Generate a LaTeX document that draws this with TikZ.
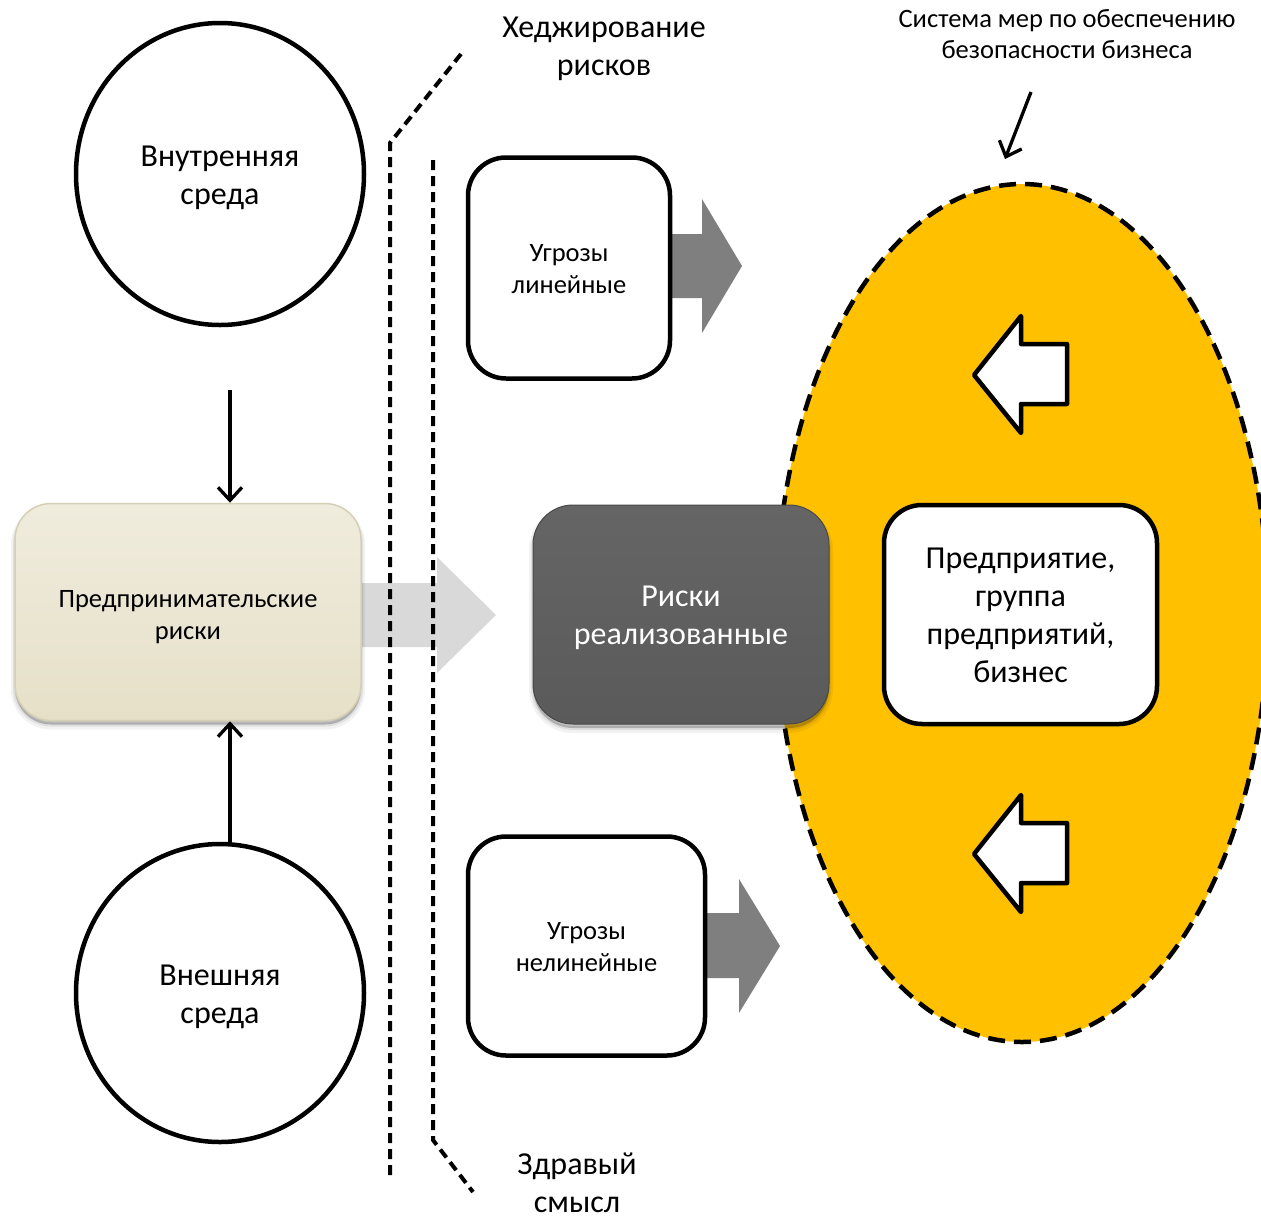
\documentclass[tikz,border=0pt]{standalone}
\usepackage{fontspec}
\setmainfont{Carlito}
\usetikzlibrary{arrows.meta,shapes.geometric}
\definecolor{ellfill}{HTML}{FFC000}
\definecolor{beigeT}{HTML}{F0ECDD}
\definecolor{beigeB}{HTML}{E6E0C8}
\definecolor{beigeD}{HTML}{D5CFB6}
\definecolor{darkT}{HTML}{656565}
\definecolor{darkB}{HTML}{5A5A5A}
\definecolor{arrLight}{HTML}{D9D9D9}
\definecolor{arrGray}{HTML}{7F7F7F}
\tikzset{
  bigfont/.style={font=\fontsize{32}{38}\selectfont},
  smallfont/.style={font=\fontsize{26.5}{32}\selectfont},
  circ/.style={draw, ellipse, line width=4.5pt, fill=white, inner sep=0pt},
  whitebox/.style={draw, line width=4.5pt, fill=white, rounded corners=38pt, inner sep=0pt},
  softshadow/.style={
    preaction={draw=black, draw opacity=0.05, line width=8pt, transform canvas={yshift=-5pt}},
    preaction={draw=black, draw opacity=0.08, line width=4pt, transform canvas={yshift=-4pt}},
    preaction={fill=black, fill opacity=0.22, transform canvas={yshift=-4pt}}},
  connarrow/.style={line width=3.3pt, -{Straight Barb[length=13pt,width=24pt,line width=3.3pt]}},
  sepline/.style={line width=4pt, dash pattern=on 10pt off 6pt},
  btext/.style={bigfont, align=center},
  stext/.style={smallfont, align=center},
}
\begin{document}
\begin{tikzpicture}[x=1pt,y=-1pt]
\useasboundingbox (0,0) rectangle (1261,1216);

% ellipse (enterprise security system)
\node[ellipse, fill=ellfill, draw=black, line width=4.5pt, dash pattern=on 17pt off 9pt,
      minimum width=492pt, minimum height=858pt, inner sep=0pt] (ell) at (1022,613) {};

% block arrows
\path[fill=arrLight] (362,583) -- (437,583) -- (437,557) -- (496,615) -- (437,673) -- (437,647) -- (362,647) -- cycle;
\path[fill=arrGray] (660,234) -- (702,234) -- (702,199) -- (742,266) -- (702,333) -- (702,298) -- (660,298) -- cycle;
\path[fill=arrGray] (700,913) -- (739,913) -- (739,879) -- (780,946) -- (739,1013) -- (739,978) -- (700,978) -- cycle;

% circles
\node[circ, minimum width=288pt, minimum height=302pt,
      label={[btext, yshift=-3.5pt]center:Внутренняя\\среда}] (inner) at (220,174) {};
\node[circ, minimum width=288pt, minimum height=298pt,
      label={[btext, yshift=-4pt]center:Внешняя\\среда}] (outer) at (220,993) {};

% entrepreneurial risks box
\node[softshadow, draw=beigeD, line width=1.5pt, top color=beigeT, bottom color=beigeB,
      rounded corners=36pt, minimum width=346pt, minimum height=217pt, inner sep=0pt,
      label={[stext, yshift=-5pt]center:Предпринимательские\\риски}] (pr) at (188,612) {};

% separators
\coordinate (l1a) at (461,54);
\coordinate (l1b) at (390,143);
\coordinate (l1c) at (390,1180);
\coordinate (l2a) at (433,160);
\coordinate (l2b) at (433,1140);
\coordinate (l2c) at (473,1192);
\draw[sepline] (l1a) -- (l1b) -- (l1c);
\draw[sepline] (l2a) -- (l2b) -- (l2c);

% threat boxes
\node[whitebox, minimum width=202pt, minimum height=221pt,
      label={[stext, yshift=-1.5pt]center:Угрозы\\линейные}] (lin) at (569,268) {};
\node[whitebox, minimum width=237pt, minimum height=219pt,
      label={[stext, yshift=-1.5pt]center:Угрозы\\нелинейные}] (nonlin) at (586.5,946) {};

% realized risks
\node[softshadow, draw=darkB!80!black, line width=1pt, top color=darkT, bottom color=darkB,
      rounded corners=40pt, minimum width=296pt, minimum height=219pt, inner sep=0pt,
      label={[btext, text=white, yshift=-3pt]center:Риски\\реализованные}] (real) at (681,614.5) {};

% enterprise box
\node[whitebox, minimum width=273pt, minimum height=219pt,
      label={[btext, yshift=-1pt]center:Предприятие,\\группа\\предприятий,\\бизнес}] (ent) at (1020.5,614.5) {};

% white arrows inside ellipse
\draw[line width=4.5pt, line join=round, fill=white] (974,375) -- (1021,316) -- (1021,344) -- (1067,344) -- (1067,404) -- (1021,404) -- (1021,433) -- cycle;
\draw[line width=4.5pt, line join=round, fill=white] (974,854) -- (1021,795) -- (1021,823) -- (1067,823) -- (1067,883) -- (1021,883) -- (1021,912) -- cycle;

% connectors to entrepreneurial risks
\coordinate (a1) at (230,390);
\coordinate (a2) at (230,845);
\draw[connarrow] (a1) -- (a1 |- pr.north);
\draw[connarrow] (a2) -- (a2 |- pr.south);

% labels
\node[btext] (hedge) at (604,49) {Хеджирование\\рисков};
\node[btext] (sense) at (577,1183) {Здравый\\смысл};
\node[font=\fontsize{26.5}{31}\selectfont, align=center] (sys) at (1067,34) {Система мер по обеспечению\\безопасности бизнеса};

\coordinate (s1) at (1031,92);
\coordinate (s2) at (1005,159);
\draw[connarrow] (s1) -- (s2);
\end{tikzpicture}
\end{document}
